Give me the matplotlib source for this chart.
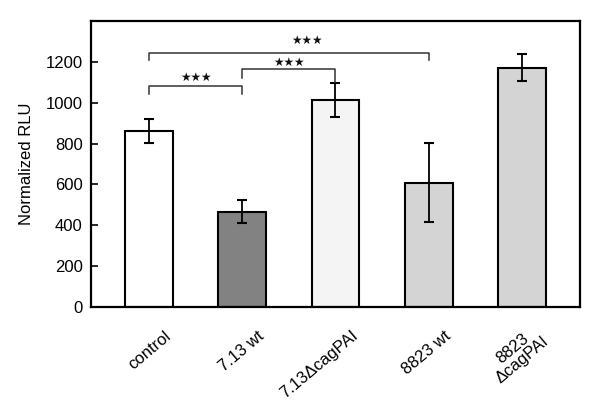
import matplotlib.pyplot as plt
import matplotlib.transforms as mtransforms

plt.rcParams['font.family'] = ['Liberation Sans', 'DejaVu Sans']

# data
groups = ['control', '7.13 wt', '7.13\u0394cagPAI', '8823 wt', '8823\n\u0394cagPAI']
rlu = [862, 467, 1014, 609, 1172]
err = [60, 57, 83, 195, 65]
bar_colors = ['#ffffff', '#828282', '#f4f4f4', '#d4d4d4', '#d4d4d4']

# significance brackets: (left bar, right bar, bar height, left leg end, right leg end, star x, star y)
brackets = [
    (0, 1, 1082, 1042, 1042, 0.5, 1124),
    (1, 2, 1163, 1120, 1099, 1.5, 1196),
    (0, 3, 1244, 1208, 1208, 1.7, 1306),
]
yticks = [0, 200, 400, 600, 800, 1000, 1200]

fig = plt.figure(figsize=(6.01, 4.04), dpi=100)
ax = fig.add_axes([0.1514, 0.2401, 0.8136, 0.708])

x = list(range(len(groups)))
ax.bar(x, rlu, width=0.51, color=bar_colors, edgecolor='black', linewidth=1.5, zorder=2)
ax.errorbar(x, rlu, yerr=err, fmt='none', ecolor='black', elinewidth=1.3,
            capsize=3.5, capthick=1.5, zorder=3)

for i, j, h, yl, yr, sx, sy in brackets:
    ax.plot([i, i, j, j], [yl, h, h, yr], color='#333333', lw=1.1, zorder=3)
    ax.text(sx, sy, '\u2605\u2605\u2605', ha='center', va='center', fontsize=8.5,
            family='DejaVu Sans', color='#111111')

ax.set_xlim(-0.62, 4.62)
ax.set_ylim(0, 1400)
ax.set_yticks(yticks)
ax.tick_params(axis='y', direction='in', length=5, width=1.2, labelsize=12, pad=6)
ax.tick_params(axis='x', length=0, labelsize=12)
ax.set_xticks(x)
ax.set_xticklabels(groups, rotation=40, ha='right', va='center', rotation_mode='anchor',
                   linespacing=1.0, multialignment='center')
offset = mtransforms.ScaledTranslation(0.2, -0.22, fig.dpi_scale_trans)
for lab in ax.get_xticklabels():
    lab.set_transform(lab.get_transform() + offset)

ax.set_ylabel('Normalized RLU', fontsize=12, labelpad=8)
for s in ax.spines.values():
    s.set_linewidth(1.6)

fig.savefig('out.png', dpi=100)
